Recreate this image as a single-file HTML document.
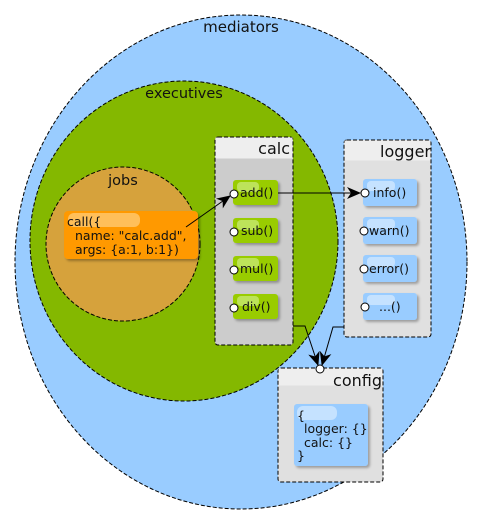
<!DOCTYPE html>
<html><head><meta charset="utf-8"><style>html,body{margin:0;padding:0;background:#fff}svg{display:block}text{font-family:"DejaVu Sans","Liberation Sans",sans-serif;fill:#111}</style></head>
<body>
<svg width="482" height="526" viewBox="0 0 482 526" xmlns="http://www.w3.org/2000/svg">
<defs>
<filter id="sh" x="-20%" y="-20%" width="150%" height="150%"><feDropShadow dx="2" dy="2" stdDeviation="1.2" flood-color="#000" flood-opacity="0.3"/></filter>
<marker id="ar" markerWidth="14" markerHeight="12" refX="13" refY="6" orient="auto" markerUnits="userSpaceOnUse"><path d="M0,0 L14,6 L0,12 L4,6 z" fill="#000"/></marker>
</defs>
<ellipse cx="241" cy="262" rx="226" ry="247" fill="#99ccff" stroke="#000" stroke-dasharray="4,2"/>
<text x="241" y="32" font-size="15" text-anchor="middle">mediators</text>
<ellipse cx="184" cy="241" rx="154" ry="160" fill="#84b800" stroke="#000" stroke-dasharray="4,2"/>
<text x="184" y="98" font-size="14.5" text-anchor="middle">executives</text>
<circle cx="123" cy="244" r="77" fill="#d6a23c" stroke="#000" stroke-dasharray="4,2"/>
<text x="123" y="185" font-size="14.5" text-anchor="middle">jobs</text>
<rect x="64" y="211" width="134" height="48" rx="4" fill="#ff9900" filter="url(#sh)"/>
<rect x="68" y="213" width="72" height="14" rx="6" fill="#ffc870" opacity="0.8"/>
<text font-size="12.5"><tspan x="67" y="226">call({</tspan><tspan x="75" y="240">name: "calc.add",</tspan><tspan x="75" y="254">args: {a:1, b:1})</tspan></text>

<rect x="215" y="137" width="78" height="208" rx="3" fill="#cccccc" stroke="#000" stroke-dasharray="4,2"/>
<rect x="215.5" y="137.5" width="77" height="21" fill="#eeeeee"/>
<text x="290" y="154" font-size="16" text-anchor="end">calc</text>
<g font-size="12.5">
<rect x="233" y="180" width="45" height="25" rx="3" fill="#99cc00" filter="url(#sh)"/><rect x="237" y="182" width="22" height="10" rx="4" fill="#bde35a"/><text x="240" y="197">add()</text>
<rect x="233" y="218" width="45" height="25" rx="3" fill="#99cc00" filter="url(#sh)"/><rect x="237" y="220" width="22" height="10" rx="4" fill="#bde35a"/><text x="241" y="235">sub()</text>
<rect x="233" y="256" width="45" height="25" rx="3" fill="#99cc00" filter="url(#sh)"/><rect x="237" y="258" width="22" height="10" rx="4" fill="#bde35a"/><text x="240" y="273">mul()</text>
<rect x="233" y="294" width="45" height="25" rx="3" fill="#99cc00" filter="url(#sh)"/><rect x="237" y="296" width="22" height="10" rx="4" fill="#bde35a"/><text x="242" y="311">div()</text>
</g>
<g fill="#fff" stroke="#000"><circle cx="234" cy="194" r="4"/><circle cx="234" cy="232" r="4"/><circle cx="234" cy="270" r="4"/><circle cx="234" cy="308" r="4"/></g>

<rect x="344" y="140" width="87" height="197" rx="3" fill="#e0e0e0" stroke="#000" stroke-dasharray="4,2"/>
<rect x="344.5" y="140.5" width="86" height="20" fill="#eeeeee"/>
<text x="431" y="157" font-size="16" text-anchor="end">logger</text>
<g font-size="12.5">
<rect x="363" y="179" width="54" height="27" rx="3" fill="#99ccff" filter="url(#sh)"/><rect x="367" y="181" width="28" height="10" rx="4" fill="#c5e2ff"/><text x="373" y="197">info()</text>
<rect x="363" y="217" width="54" height="27" rx="3" fill="#99ccff" filter="url(#sh)"/><rect x="367" y="219" width="28" height="10" rx="4" fill="#c5e2ff"/><text x="369" y="235">warn()</text>
<rect x="363" y="255" width="54" height="27" rx="3" fill="#99ccff" filter="url(#sh)"/><rect x="367" y="257" width="28" height="10" rx="4" fill="#c5e2ff"/><text x="369" y="273">error()</text>
<rect x="363" y="293" width="54" height="27" rx="3" fill="#99ccff" filter="url(#sh)"/><rect x="367" y="295" width="28" height="10" rx="4" fill="#c5e2ff"/><text x="379" y="311">...()</text>
</g>
<g fill="#fff" stroke="#000"><circle cx="365" cy="193" r="4"/><circle cx="364" cy="231" r="4"/><circle cx="364" cy="269" r="4"/><circle cx="365" cy="307" r="4"/></g>

<rect x="278" y="368" width="105" height="114" rx="3" fill="#e0e0e0" stroke="#000" stroke-dasharray="4,2"/>
<rect x="278.5" y="368.5" width="104" height="17" fill="#eeeeee"/>
<text x="382" y="386" font-size="16" text-anchor="end">config</text>
<rect x="294" y="404" width="74" height="62" rx="3" fill="#99ccff" filter="url(#sh)"/>
<rect x="297" y="406" width="40" height="14" rx="6" fill="#c5e2ff"/>
<text font-size="12.5"><tspan x="297" y="420">{</tspan><tspan x="304" y="433">logger: {}</tspan><tspan x="304" y="447">calc: {}</tspan><tspan x="297" y="460">}</tspan></text>

<g stroke="#000" fill="none" stroke-width="1">
<line x1="186" y1="227" x2="230" y2="196" marker-end="url(#ar)"/>
<line x1="278" y1="193" x2="360" y2="193" marker-end="url(#ar)"/>
<polyline points="293,326 305,326 318,365" marker-end="url(#ar)"/>
<polyline points="344,327 333,327 322,365" marker-end="url(#ar)"/>
</g>
<circle cx="320" cy="369" r="4" fill="#fff" stroke="#000"/>
</svg>
</body></html>
